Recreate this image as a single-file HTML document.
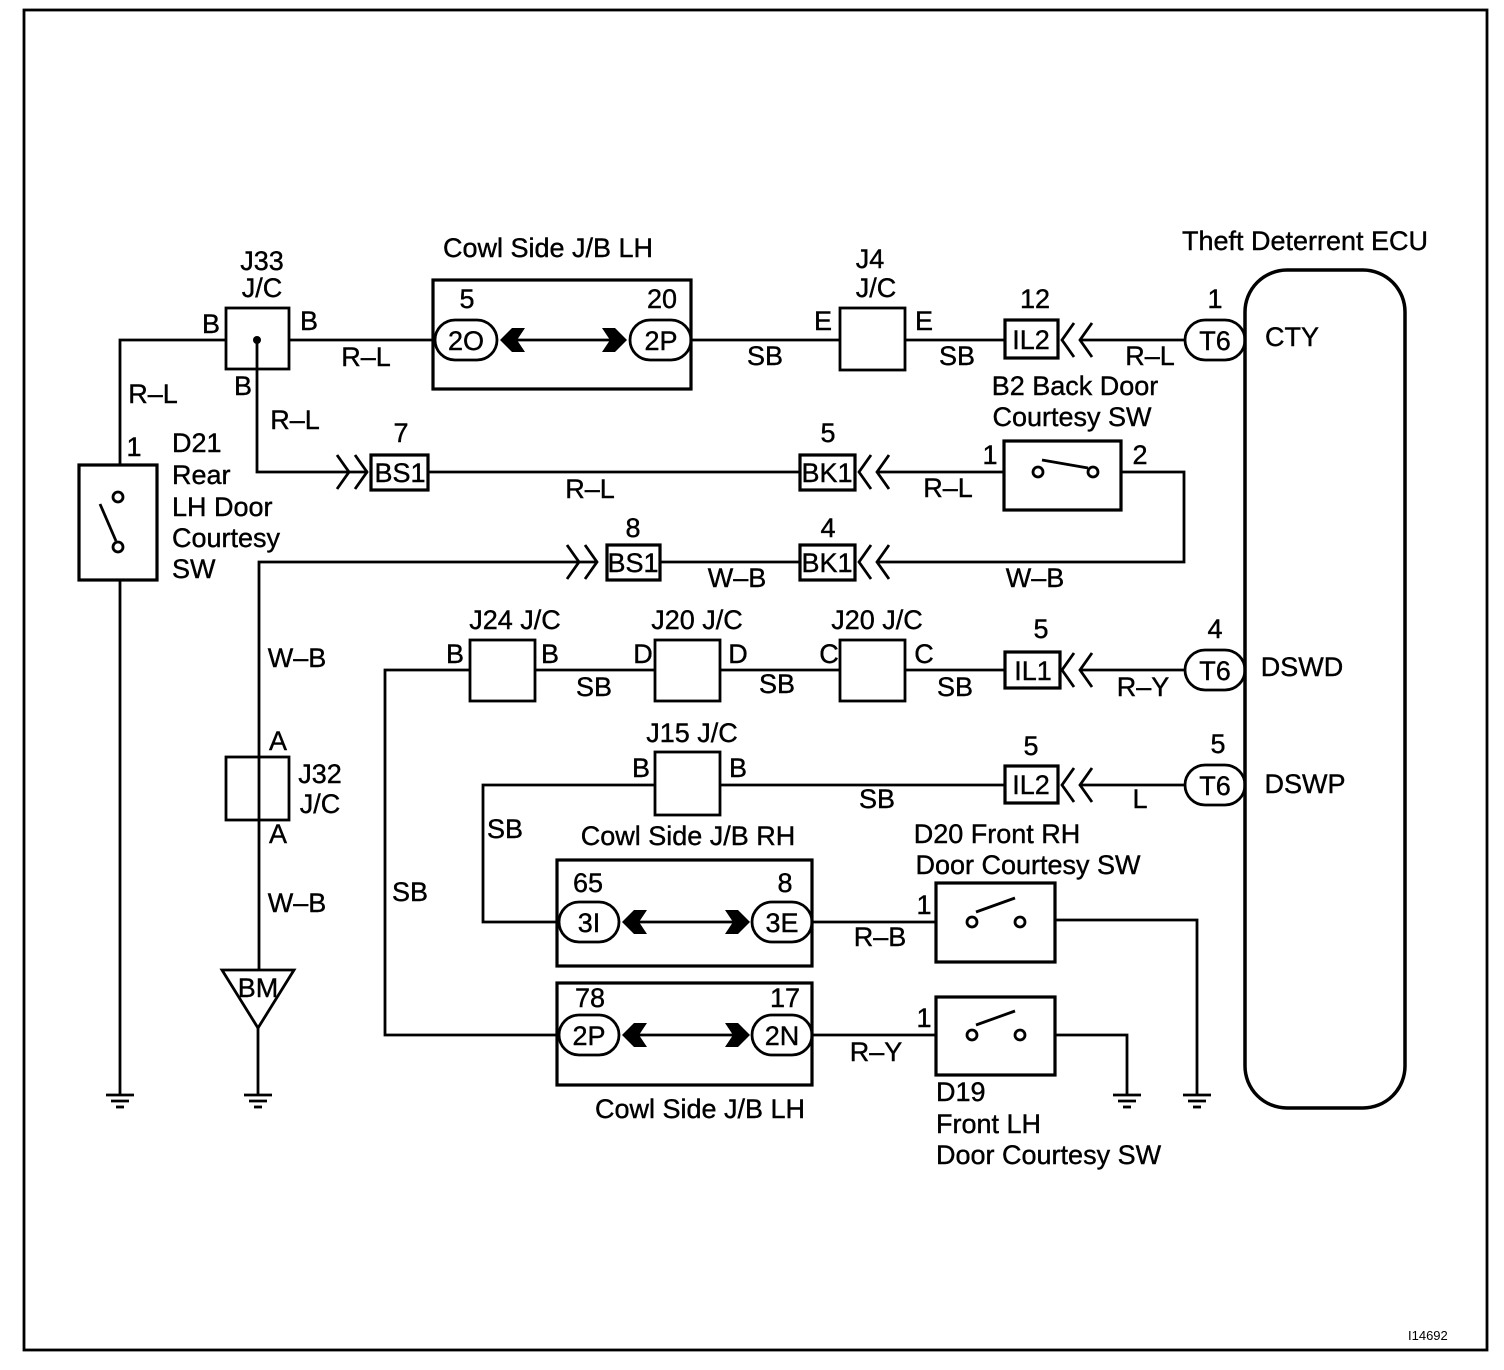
<!DOCTYPE html>
<html><head><style>html,body{margin:0;padding:0;background:#fff}svg{display:block}text{font-family:"Liberation Sans",Arial,sans-serif;font-size:27px;fill:#000;stroke:#000;stroke-width:0.4}</style></head><body>
<svg width="1504" height="1370" viewBox="0 0 1504 1370" xmlns="http://www.w3.org/2000/svg">
<defs>
<g id="gnd"><line x1="-14" y1="0" x2="14" y2="0"/><line x1="-9" y1="6" x2="9" y2="6"/><line x1="-4" y1="12" x2="4" y2="12"/></g>
<g id="dch" fill="none"><polyline points="12,-17 0,0 12,17"/><polyline points="30,-17 18,0 30,17"/></g>
</defs>
<g stroke="#000" stroke-width="2.8" fill="none">
<rect x="24" y="10" width="1463" height="1340"/>
<rect x="1245" y="270" width="160" height="838" rx="42" stroke-width="3.5"/>
<rect x="226" y="308" width="63" height="61"/>
<polyline points="226,340 120,340 120,465"/>
<rect x="79" y="465" width="78" height="115" stroke-width="3.2"/>
<circle cx="118" cy="497" r="5"/><circle cx="118" cy="547" r="5"/>
<line x1="116" y1="541" x2="100" y2="504"/>
<line x1="120" y1="580" x2="120" y2="1095"/>
<use href="#gnd" x="120" y="1095"/>
<line x1="289" y1="340" x2="433" y2="340"/>
<rect x="433" y="280" width="258" height="109" stroke-width="3.2"/>
<rect x="435" y="320" width="62" height="40" rx="20"/>
<rect x="630" y="320" width="61" height="40" rx="20"/>
<line x1="510" y1="340" x2="610" y2="340"/>
<line x1="691" y1="340" x2="840" y2="340"/>
<rect x="840" y="308" width="65" height="62"/>
<line x1="905" y1="340" x2="1005" y2="340"/>
<rect x="1005" y="320" width="53" height="38" stroke-width="3.2"/>
<use href="#dch" x="1062" y="340"/>
<line x1="1080" y1="340" x2="1185" y2="340"/>
<rect x="1185" y="320" width="60" height="40" rx="20"/>
<polyline points="257,340 257,472 368,472"/>
<polyline points="337,455 349,472 337,489" /><polyline points="355,455 367,472 355,489"/>
<rect x="371" y="455" width="57" height="35" stroke-width="3.2"/>
<line x1="428" y1="472" x2="800" y2="472"/>
<rect x="800" y="455" width="55" height="35" stroke-width="3.2"/>
<use href="#dch" x="859" y="472"/>
<line x1="877" y1="472" x2="1004" y2="472"/>
<rect x="1004" y="441" width="117" height="69" stroke-width="3.2"/>
<circle cx="1038" cy="472" r="5"/><circle cx="1093" cy="472" r="5"/>
<line x1="1042" y1="460" x2="1088" y2="468"/>
<polyline points="1121,472 1184,472 1184,562 877,562"/>
<rect x="800" y="545" width="55" height="35" stroke-width="3.2"/>
<use href="#dch" x="859" y="562"/>
<line x1="660" y1="562" x2="800" y2="562"/>
<rect x="607" y="545" width="53" height="35" stroke-width="3.2"/>
<polyline points="567,545 579,562 567,579"/><polyline points="585,545 597,562 585,579"/>
<polyline points="597,562 259,562 259,970"/>
<rect x="226" y="757" width="63" height="63"/>
<polygon points="222,970 294,970 258,1028"/>
<line x1="258" y1="1028" x2="258" y2="1095"/>
<use href="#gnd" x="258" y="1095"/>
<rect x="1185" y="650" width="60" height="40" rx="20"/>
<line x1="1080" y1="670" x2="1185" y2="670"/>
<use href="#dch" x="1062" y="670"/>
<rect x="1005" y="652" width="55" height="36" stroke-width="3.2"/>
<line x1="905" y1="670" x2="1005" y2="670"/>
<rect x="840" y="640" width="65" height="61"/>
<line x1="720" y1="670" x2="840" y2="670"/>
<rect x="655" y="640" width="65" height="61"/>
<line x1="535" y1="670" x2="655" y2="670"/>
<rect x="470" y="640" width="65" height="61"/>
<polyline points="470,670 385,670 385,1035 558,1035"/>
<rect x="1185" y="765" width="60" height="40" rx="20"/>
<line x1="1080" y1="785" x2="1185" y2="785"/>
<use href="#dch" x="1062" y="785"/>
<rect x="1005" y="766" width="53" height="37" stroke-width="3.2"/>
<line x1="720" y1="785" x2="1005" y2="785"/>
<rect x="655" y="752" width="65" height="63"/>
<polyline points="655,785 483,785 483,922 558,922"/>
<rect x="557" y="860" width="255" height="106" stroke-width="3.2"/>
<rect x="559" y="902" width="60" height="40" rx="20"/>
<rect x="752" y="902" width="60" height="40" rx="20"/>
<line x1="632" y1="922" x2="737" y2="922"/>
<line x1="812" y1="922" x2="936" y2="922"/>
<rect x="936" y="883" width="119" height="79" stroke-width="3.2"/>
<circle cx="972" cy="922" r="5"/><circle cx="1020" cy="922" r="5"/>
<line x1="976" y1="912" x2="1015" y2="898"/>
<polyline points="1055,920 1197,920 1197,1095"/>
<use href="#gnd" x="1197" y="1095"/>
<rect x="557" y="983" width="255" height="102" stroke-width="3.2"/>
<rect x="559" y="1015" width="60" height="40" rx="20"/>
<rect x="752" y="1015" width="60" height="40" rx="20"/>
<line x1="632" y1="1035" x2="737" y2="1035"/>
<line x1="812" y1="1035" x2="936" y2="1035"/>
<rect x="936" y="997" width="119" height="78" stroke-width="3.2"/>
<circle cx="972" cy="1035" r="5"/><circle cx="1020" cy="1035" r="5"/>
<line x1="976" y1="1025" x2="1015" y2="1011"/>
<polyline points="1055,1035 1127,1035 1127,1095"/>
<use href="#gnd" x="1127" y="1095"/>
</g>
<circle cx="257" cy="340" r="4" fill="#000"/>
<g fill="#000">
<polygon points="500,340 512,328 525,328 517,340 525,352 512,352"/>
<polygon points="627,340 615,328 602,328 610,340 602,352 615,352"/>
<polygon points="622,922 634,910 647,910 639,922 647,934 634,934"/>
<polygon points="750,922 738,910 725,910 733,922 725,934 738,934"/>
<polygon points="622,1035 634,1023 647,1023 639,1035 647,1047 634,1047"/>
<polygon points="750,1035 738,1023 725,1023 733,1035 725,1047 738,1047"/>
</g>
<g text-anchor="middle">
<text x="1305" y="250">Theft Deterrent ECU</text>
<text x="548" y="257">Cowl Side J/B LH</text>
<text x="262" y="270">J33</text><text x="262" y="297">J/C</text>
<text x="211" y="333">B</text><text x="309" y="330">B</text><text x="243" y="395">B</text>
<text x="366" y="366">R–L</text>
<text x="467" y="308">5</text><text x="662" y="308">20</text>
<text x="466" y="350">2O</text><text x="661" y="350">2P</text>
<text x="870" y="268">J4</text><text x="876" y="297">J/C</text>
<text x="823" y="330">E</text><text x="924" y="330">E</text>
<text x="765" y="365">SB</text><text x="957" y="365">SB</text>
<text x="1035" y="308">12</text><text x="1031" y="349">IL2</text>
<text x="1150" y="365">R–L</text>
<text x="1215" y="308">1</text><text x="1215" y="350">T6</text>
<text x="1292" y="346">CTY</text>
<text x="153" y="403">R–L</text><text x="134" y="456">1</text>
<text x="295" y="429">R–L</text>
<text x="401" y="442">7</text><text x="400" y="482">BS1</text>
<text x="590" y="498">R–L</text>
<text x="828" y="442">5</text><text x="827" y="482">BK1</text>
<text x="948" y="497">R–L</text>
<text x="1075" y="395">B2 Back Door</text><text x="1072" y="426">Courtesy SW</text>
<text x="990" y="464">1</text><text x="1140" y="464">2</text>
<text x="633" y="537">8</text><text x="633" y="572">BS1</text>
<text x="828" y="537">4</text><text x="827" y="572">BK1</text>
<text x="737" y="587">W–B</text><text x="1035" y="587">W–B</text>
<text x="297" y="667">W–B</text>
<text x="278" y="750">A</text><text x="320" y="783">J32</text><text x="320" y="813">J/C</text><text x="278" y="843">A</text>
<text x="297" y="912">W–B</text>
<text x="258" y="997">BM</text>
<text x="515" y="629">J24 J/C</text><text x="697" y="629">J20 J/C</text><text x="877" y="629">J20 J/C</text>
<text x="455" y="663">B</text><text x="550" y="663">B</text>
<text x="643" y="663">D</text><text x="738" y="663">D</text>
<text x="829" y="663">C</text><text x="924" y="663">C</text>
<text x="594" y="696">SB</text><text x="777" y="693">SB</text><text x="955" y="696">SB</text>
<text x="1041" y="638">5</text><text x="1033" y="680">IL1</text>
<text x="1143" y="696">R–Y</text>
<text x="1215" y="638">4</text><text x="1215" y="680">T6</text>
<text x="1302" y="676">DSWD</text>
<text x="692" y="742">J15 J/C</text>
<text x="641" y="777">B</text><text x="738" y="777">B</text>
<text x="877" y="808">SB</text>
<text x="1031" y="755">5</text><text x="1031" y="794">IL2</text>
<text x="1140" y="808">L</text>
<text x="1218" y="753">5</text><text x="1215" y="795">T6</text>
<text x="1305" y="793">DSWP</text>
<text x="505" y="838">SB</text><text x="410" y="901">SB</text>
<text x="688" y="845">Cowl Side J/B RH</text>
<text x="588" y="892">65</text><text x="785" y="892">8</text>
<text x="589" y="932">3I</text><text x="782" y="932">3E</text>
<text x="880" y="946">R–B</text><text x="924" y="914">1</text>
<text x="997" y="843">D20 Front RH</text><text x="1028" y="874">Door Courtesy SW</text>
<text x="590" y="1007">78</text><text x="785" y="1007">17</text>
<text x="589" y="1045">2P</text><text x="782" y="1045">2N</text>
<text x="876" y="1061">R–Y</text><text x="924" y="1027">1</text>
<text x="700" y="1118">Cowl Side J/B LH</text>
</g>
<text x="172" y="452">D21</text><text x="172" y="484">Rear</text><text x="172" y="516">LH Door</text><text x="172" y="547">Courtesy</text><text x="172" y="578">SW</text>
<text x="936" y="1101">D19</text><text x="936" y="1133">Front LH</text><text x="936" y="1164">Door Courtesy SW</text>
<text x="1408" y="1340" style="font-size:13px;stroke-width:0">I14692</text>
</svg>
</body></html>
